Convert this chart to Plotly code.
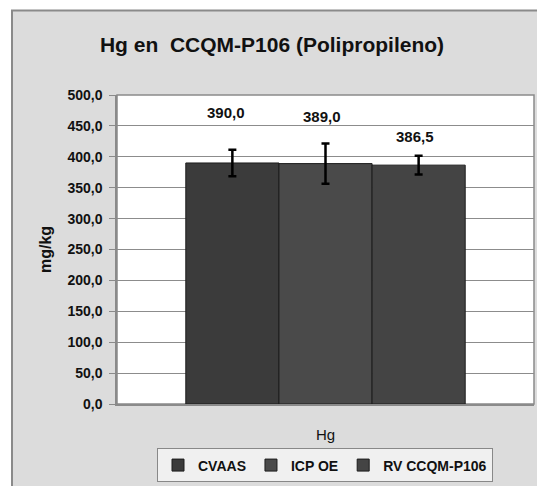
import plotly.graph_objects as go

# Data
category = ["Hg"]
methods = ["CVAAS", "ICP OE", "RV CCQM-P106"]
values = [390.0, 389.0, 386.5]
uncert = [21.5, 32.5, 15.0]
y_ticks = [0, 50, 100, 150, 200, 250, 300, 350, 400, 450, 500]

# Styles
bar_colors = ["#3b3b3b", "#4a4a4a", "#444444"]
label_lift_px = [50, 47, 29]
label_dx_px = [-6, -4, -4]

W, H = 537, 486
ML, MR, MT, MB = 117, 3, 95, 80
BARGAP = 0.33
FONT = "Liberation Sans, Arial, sans-serif"
INK = "#111111"

fig = go.Figure()
for name, v, e, c in zip(methods, values, uncert, bar_colors):
    fig.add_trace(go.Bar(
        name=name, x=category, y=[v],
        marker=dict(color=c, line=dict(color="#1c1c1c", width=1)),
        error_y=dict(type="data", array=[e], color="#000000",
                     thickness=2.5, width=4),
    ))

# value labels above each bar
n = len(methods)
bw = (1 - BARGAP) / n
ann = []
for i, v in enumerate(values):
    ann.append(dict(
        x=(i - (n - 1) / 2) * bw, y=v, xref="x", yref="y",
        text="<b>" + f"{v:.1f}".replace(".", ",") + "</b>",
        showarrow=False, yshift=label_lift_px[i], xshift=label_dx_px[i],
        font=dict(family=FONT, size=15, color=INK),
    ))

pw = W - ML - MR
ph = H - MT - MB
def px_x(p):
    return (p - ML) / pw
def px_y(p):
    return (H - MB - p) / ph

shapes = [
    # chart area
    dict(type="rect", xref="paper", yref="paper",
         x0=px_x(12), x1=px_x(W + 5), y0=px_y(H + 5), y1=px_y(10),
         fillcolor="#dcdcdc", line=dict(color="#8a8a8a", width=2), layer="below"),
    # plot area
    dict(type="rect", xref="paper", yref="paper", x0=0, x1=1, y0=0, y1=1,
         fillcolor="#ffffff", line=dict(color="#8a8a8a", width=1.5), layer="below"),
]

fig.update_layout(
    width=W, height=H,
    margin=dict(l=ML, r=MR, t=MT, b=MB),
    paper_bgcolor="#ffffff", plot_bgcolor="rgba(0,0,0,0)",
    separators=",.",
    barmode="group", bargap=BARGAP, bargroupgap=0,
    font=dict(family=FONT, color=INK),
    title=dict(text="<b>Hg en  CCQM-P106 (Polipropileno)</b>",
               x=272 / W, xanchor="center", xref="container",
               y=1 - 45 / H, yanchor="middle", yref="container",
               font=dict(family=FONT, size=21, color=INK)),
    xaxis=dict(showgrid=False, ticks="", ticklabelstandoff=16,
               tickfont=dict(family=FONT, size=15, color=INK),
               showline=True, linecolor="#8a8a8a", linewidth=1.5),
    yaxis=dict(range=[0, 500], tickvals=y_ticks, tickformat=".1f",
               showgrid=True, gridcolor="#8c8c8c", gridwidth=1,
               ticks="outside", ticklen=6, tickcolor="#8a8a8a",
               ticklabelstandoff=4,
               tickfont=dict(family=FONT, size=14, color=INK, weight="bold"),
               showline=True, linecolor="#8a8a8a", linewidth=1.5,
               zeroline=False,
               title=dict(text="<b>mg/kg</b>", standoff=12,
                          font=dict(family=FONT, size=16, color=INK))),
    legend=dict(orientation="h", x=px_x(325), xanchor="center",
                y=px_y(485), yanchor="bottom",
                bgcolor="#f0f0f0", bordercolor="#888888", borderwidth=1,
                font=dict(family=FONT, size=14, color=INK, weight="bold"),
                itemwidth=30, tracegroupgap=0, traceorder="normal"),
    shapes=shapes,
    annotations=ann,
)

fig.write_html("out.html")
